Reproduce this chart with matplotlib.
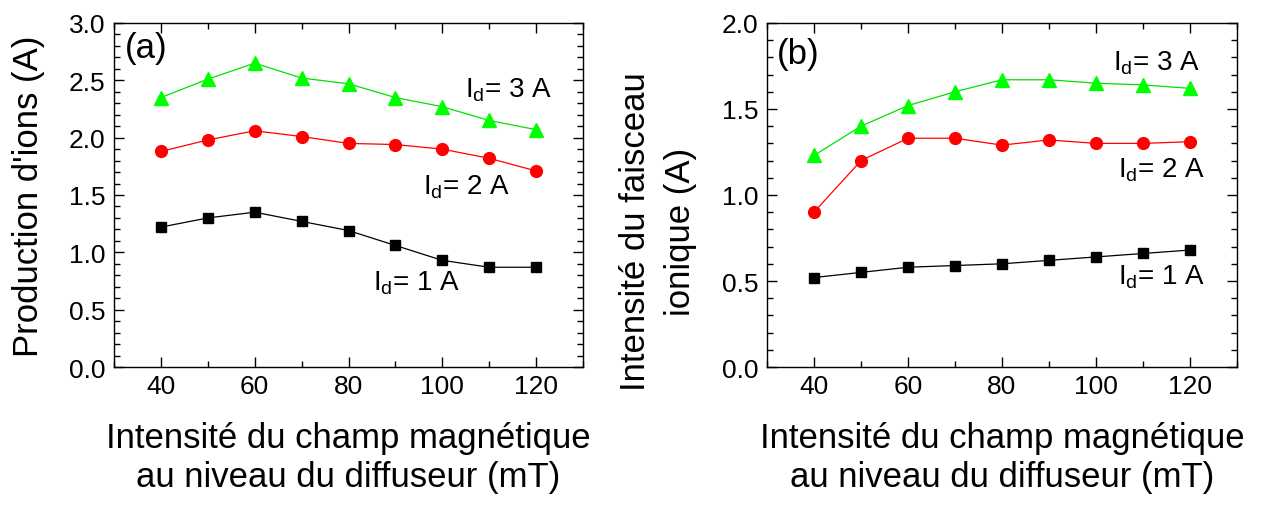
import matplotlib as mpl
mpl.use('Agg')
import matplotlib.pyplot as plt
from matplotlib.ticker import MultipleLocator

plt.rcParams['font.family'] = ['Liberation Sans', 'DejaVu Sans']
plt.rcParams['mathtext.fontset'] = 'custom'
plt.rcParams['mathtext.rm'] = 'Liberation Sans'
plt.rcParams['mathtext.it'] = 'Liberation Sans:italic'

# champ magnétique (mT)
champ = [40, 50, 60, 70, 80, 90, 100, 110, 120]

# (a) production d'ions (A)
prod_1A = [1.22, 1.30, 1.35, 1.27, 1.19, 1.06, 0.93, 0.87, 0.87]
prod_2A = [1.88, 1.98, 2.06, 2.01, 1.95, 1.94, 1.90, 1.82, 1.71]
prod_3A = [2.35, 2.51, 2.65, 2.52, 2.47, 2.35, 2.27, 2.15, 2.07]

# (b) intensité du faisceau ionique (A)
faisc_1A = [0.52, 0.55, 0.58, 0.59, 0.60, 0.62, 0.64, 0.66, 0.68]
faisc_2A = [0.90, 1.20, 1.33, 1.33, 1.29, 1.32, 1.30, 1.30, 1.31]
faisc_3A = [1.23, 1.40, 1.52, 1.60, 1.67, 1.67, 1.65, 1.64, 1.62]

xlabel = "Intensité du champ magnétique\nau niveau du diffuseur (mT)"

fig = plt.figure(figsize=(12.7, 5.06), dpi=100)
ax1 = fig.add_axes([114/1270, 138/506, 469/1270, 344/506])
ax2 = fig.add_axes([767/1270, 138/506, 470/1270, 344/506])


def style(ax, ymax):
    ax.set_xlim(30, 130)
    ax.set_ylim(0, ymax)
    ax.xaxis.set_major_locator(MultipleLocator(20))
    ax.xaxis.set_minor_locator(MultipleLocator(10))
    ax.yaxis.set_major_locator(MultipleLocator(0.5))
    ax.yaxis.set_minor_locator(MultipleLocator(0.1))
    ax.tick_params(which='both', direction='in', top=True, right=True,
                   labelsize=19, width=1)
    ax.tick_params(which='major', length=7)
    ax.tick_params(which='minor', length=4)
    ax.tick_params(axis='x', pad=5)
    ax.tick_params(axis='y', pad=6)
    ax.set_xticks([40, 60, 80, 100, 120])
    for s in ax.spines.values():
        s.set_linewidth(1)
    ax.set_xlabel(xlabel, fontsize=25, linespacing=1.2)
    ax.xaxis.set_label_coords(0.5, -0.158)


def courbes(ax, y1, y2, y3):
    ax.plot(champ, y3, '-^', color='#00e000', mfc='#00ff00', mec='#00ff00', ms=10, lw=0.9)
    ax.plot(champ, y2, '-o', color='#ff0000', mfc='#ff0000', mec='#ff0000', ms=8.5, lw=0.9)
    ax.plot(champ, y1, '-s', color='black', ms=7, lw=0.9)


courbes(ax1, prod_1A, prod_2A, prod_3A)
style(ax1, 3.0)
ax1.set_ylabel("Production d'ions (A)", fontsize=25)
ax1.yaxis.set_label_coords(-0.147, 0.5)
ax1.text(0.023, 0.93, '(a)', transform=ax1.transAxes, fontsize=25, va='center')
ax1.text(104.8, 2.36, r'I$_\mathrm{d}$= 3 A', fontsize=20, va='baseline')
ax1.text(95.9, 1.51, r'I$_\mathrm{d}$= 2 A', fontsize=20, va='baseline')
ax1.text(85.2, 0.68, r'I$_\mathrm{d}$= 1 A', fontsize=20, va='baseline')

courbes(ax2, faisc_1A, faisc_2A, faisc_3A)
style(ax2, 2.0)
ax2.set_ylabel("Intensité du faisceau\nionique (A)", fontsize=25, linespacing=1.45)
ax2.yaxis.set_label_coords(-0.149, 0.395)
ax2.text(0.021, 0.91, '(b)', transform=ax2.transAxes, fontsize=25, va='center')
ax2.text(103.6, 1.727, r'I$_\mathrm{d}$= 3 A', fontsize=20, va='baseline')
ax2.text(104.7, 1.11, r'I$_\mathrm{d}$= 2 A', fontsize=20, va='baseline')
ax2.text(104.7, 0.483, r'I$_\mathrm{d}$= 1 A', fontsize=20, va='baseline')

fig.savefig('out.png', dpi=100)
